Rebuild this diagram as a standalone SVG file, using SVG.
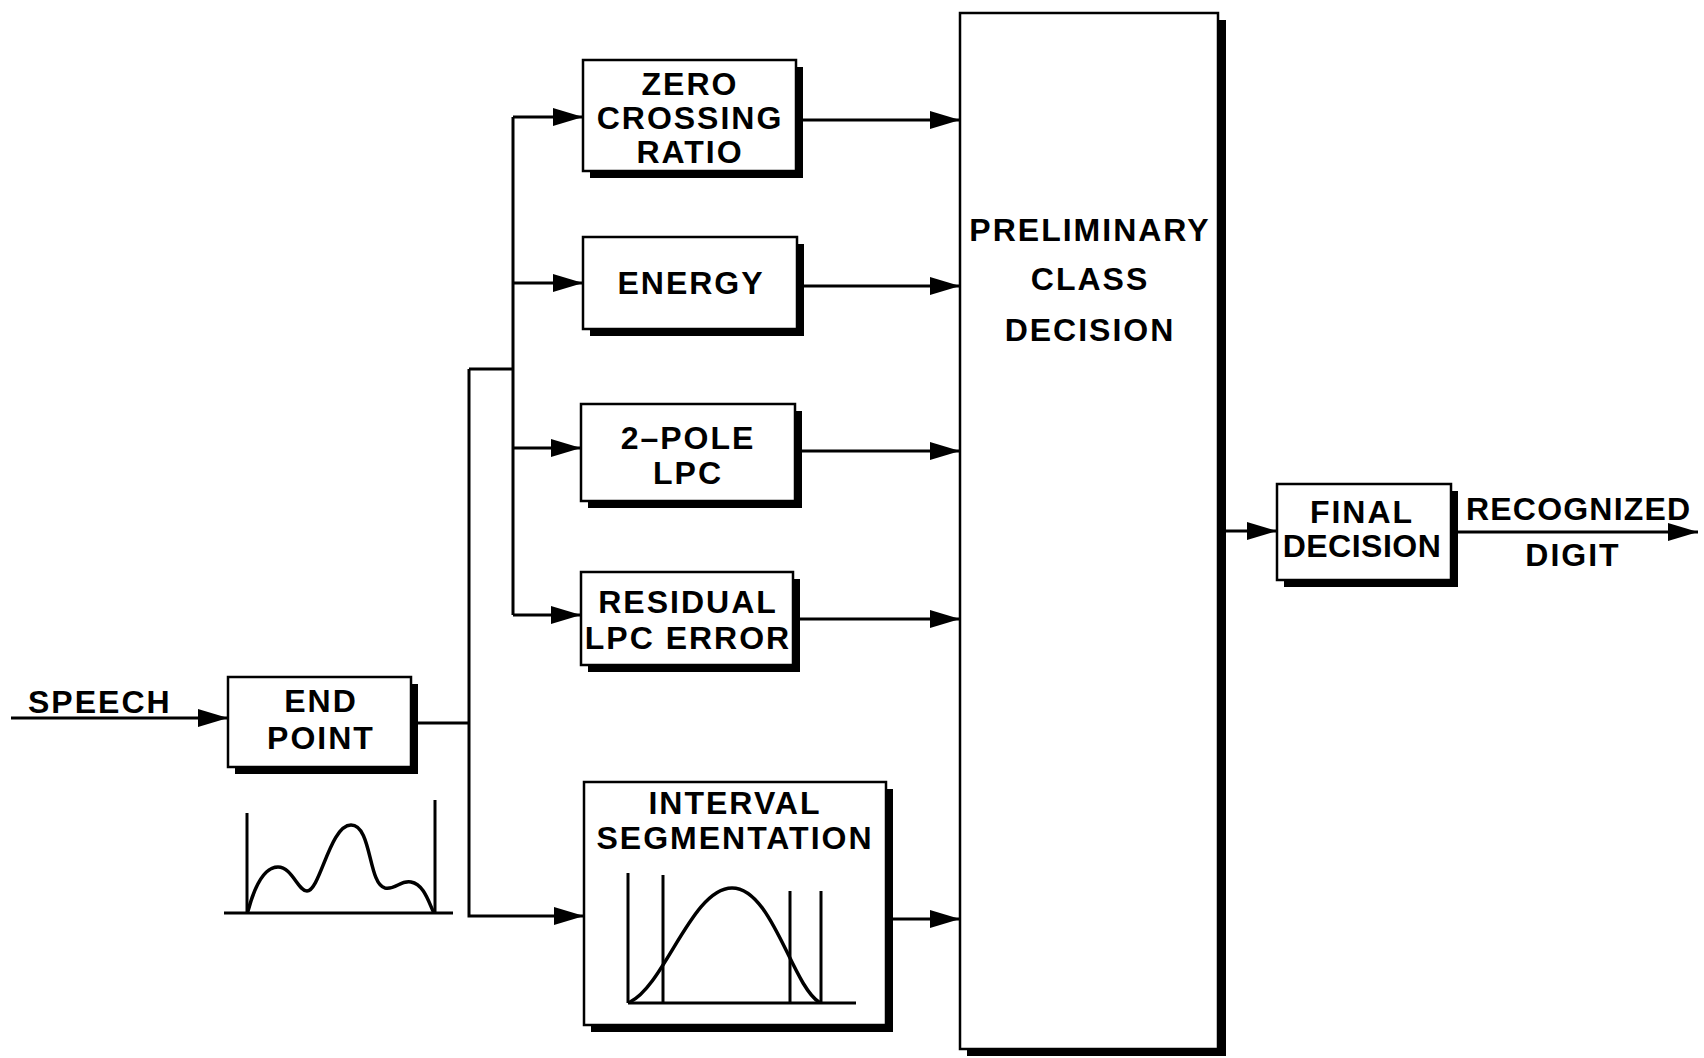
<svg xmlns="http://www.w3.org/2000/svg" width="1704" height="1058" viewBox="0 0 1704 1058">
<style>
  .box{fill:#fff;stroke:#000;stroke-width:2.5}
  .sh{fill:#000}
  .ln{fill:none;stroke:#000;stroke-width:3}
  .wv{fill:none;stroke:#000;stroke-width:3.5;stroke-linecap:round;stroke-linejoin:round}
  text{font-family:"Liberation Sans",Arial,sans-serif;font-weight:bold;font-size:32px;letter-spacing:2px;fill:#000}
  .c{text-anchor:middle}
</style>
<defs>
  <marker id="arr" markerUnits="userSpaceOnUse" markerWidth="30" markerHeight="18" refX="30" refY="9" orient="auto">
    <path d="M0,0 L30,9 L0,18 z" fill="#000"/>
  </marker>
</defs>
<rect width="1704" height="1058" fill="#fff"/>

<g id="connectors">
  <path class="ln" d="M11,718 H228" marker-end="url(#arr)"/>
  <path class="ln" d="M417,723 H469"/>
  <path class="ln" d="M469,369 V916 H584" marker-end="url(#arr)"/>
  <path class="ln" d="M469,369 H513"/>
  <path class="ln" d="M513,117 V615"/>
  <path class="ln" d="M513,117 H583" marker-end="url(#arr)"/>
  <path class="ln" d="M513,283 H583" marker-end="url(#arr)"/>
  <path class="ln" d="M513,448 H581" marker-end="url(#arr)"/>
  <path class="ln" d="M513,615 H581" marker-end="url(#arr)"/>
  <path class="ln" d="M803,120 H960" marker-end="url(#arr)"/>
  <path class="ln" d="M804,286 H960" marker-end="url(#arr)"/>
  <path class="ln" d="M802,451 H960" marker-end="url(#arr)"/>
  <path class="ln" d="M800,619 H960" marker-end="url(#arr)"/>
  <path class="ln" d="M893,919 H960" marker-end="url(#arr)"/>
  <path class="ln" d="M1226,531 H1277" marker-end="url(#arr)"/>
  <path class="ln" d="M1458,532 H1698" marker-end="url(#arr)"/>
</g>

<g id="speech-label">
  <text x="28" y="713">SPEECH</text>
</g>

<g id="end-point">
  <rect class="sh" x="235" y="684" width="183" height="90"/>
  <rect class="box" x="228" y="677" width="183" height="90"/>
  <text class="c" x="321" y="712">END</text>
  <text class="c" x="321" y="749">POINT</text>
</g>

<g id="end-point-waveform">
  <path class="ln" d="M224,913 H453"/>
  <path class="ln" d="M247,813 V913"/>
  <path class="ln" d="M435,800 V913"/>
  <path class="wv" d="M248,911 C255,885 265,867 278,867 C292,867 298,891 307,891 C320,891 330,825 351,825 C372,825 368,884 385,888 C396,890 400,880 411,882 C423,884 428,900 433,911"/>
</g>

<g id="zero-crossing">
  <rect class="sh" x="590" y="67" width="213" height="111"/>
  <rect class="box" x="583" y="60" width="213" height="111"/>
  <text class="c" x="690" y="95">ZERO</text>
  <text class="c" x="690" y="129">CROSSING</text>
  <text class="c" x="690" y="163">RATIO</text>
</g>

<g id="energy">
  <rect class="sh" x="590" y="244" width="214" height="92"/>
  <rect class="box" x="583" y="237" width="214" height="92"/>
  <text class="c" x="691" y="294">ENERGY</text>
</g>

<g id="two-pole-lpc">
  <rect class="sh" x="588" y="411" width="214" height="97"/>
  <rect class="box" x="581" y="404" width="214" height="97"/>
  <text class="c" x="688" y="449">2–POLE</text>
  <text class="c" x="688" y="484">LPC</text>
</g>

<g id="residual-lpc-error">
  <rect class="sh" x="588" y="579" width="212" height="93"/>
  <rect class="box" x="581" y="572" width="212" height="93"/>
  <text class="c" x="688" y="613">RESIDUAL</text>
  <text class="c" x="688" y="649">LPC ERROR</text>
</g>

<g id="interval-segmentation">
  <rect class="sh" x="591" y="789" width="302" height="243"/>
  <rect class="box" x="584" y="782" width="302" height="243"/>
  <text class="c" x="735" y="814">INTERVAL</text>
  <text class="c" x="735" y="849">SEGMENTATION</text>
  <path class="ln" d="M628,1003 H856"/>
  <path class="ln" d="M628,873 V1003"/>
  <path class="ln" d="M663,875 V1003"/>
  <path class="ln" d="M790,891 V1003"/>
  <path class="ln" d="M821,891 V1003"/>
  <path class="wv" d="M630,1002 C665,985 692,888 732,888 C772,888 792,985 819,1002"/>
</g>

<g id="preliminary-class-decision">
  <rect class="sh" x="967" y="20" width="259" height="1036"/>
  <rect class="box" x="960" y="13" width="258" height="1036"/>
  <text class="c" x="1090" y="241">PRELIMINARY</text>
  <text class="c" x="1090" y="290">CLASS</text>
  <text class="c" x="1090" y="341">DECISION</text>
</g>

<g id="final-decision">
  <rect class="sh" x="1284" y="491" width="174" height="96"/>
  <rect class="box" x="1277" y="484" width="174" height="96"/>
  <text class="c" x="1362" y="523">FINAL</text>
  <text class="c" x="1362" y="557" style="letter-spacing:0.5px">DECISION</text>
</g>

<g id="output-label">
  <text x="1466" y="520" style="letter-spacing:1.2px">RECOGNIZED</text>
  <text class="c" x="1573" y="566">DIGIT</text>
</g>
</svg>
